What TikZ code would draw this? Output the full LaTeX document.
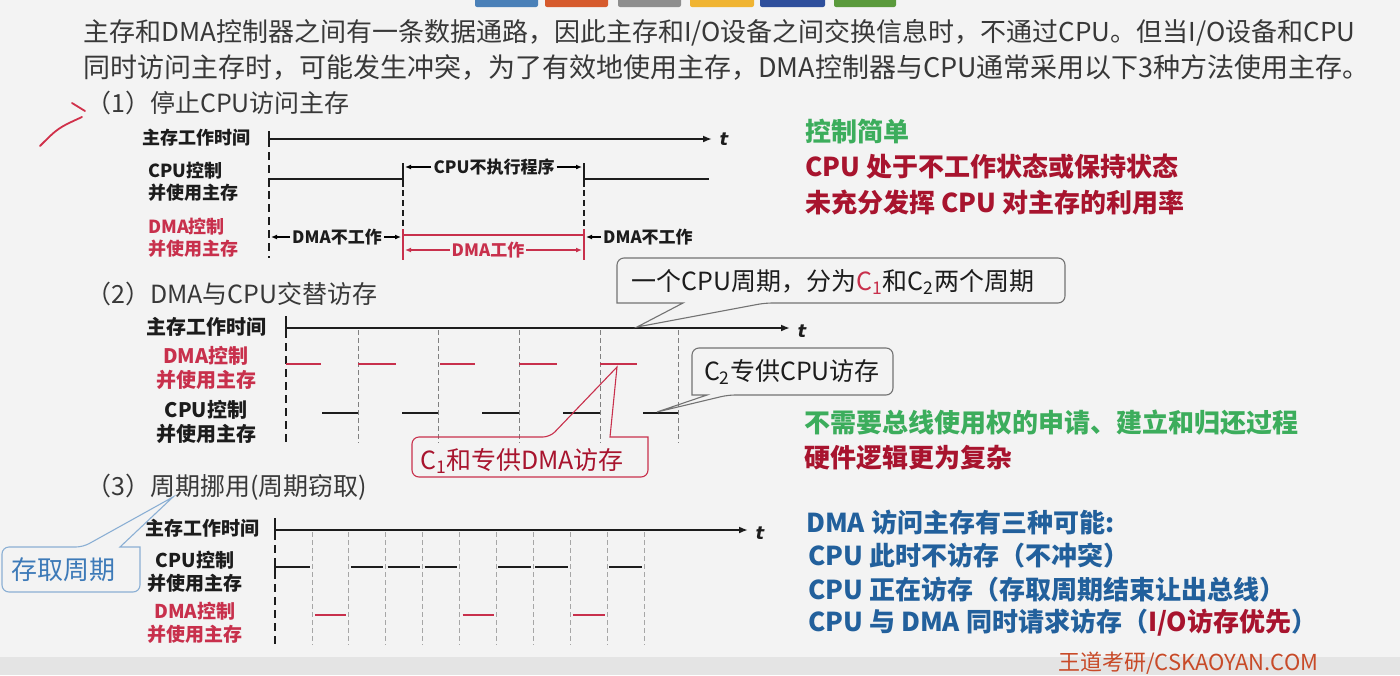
\documentclass[tikz,border=0pt]{standalone}
\usepackage{fontspec}
\setmainfont{Noto Sans CJK SC}
\newfontfamily\tfont{DejaVu Sans}
\usetikzlibrary{arrows.meta}
\definecolor{slidebg}{HTML}{F3F3F3}
\definecolor{slideband}{HTML}{E4E4E4}
\definecolor{ink}{HTML}{1C1C1C}
\definecolor{txtgray}{HTML}{383838}
\definecolor{dmared}{HTML}{C8304C}
\definecolor{darkred}{HTML}{A8142E}
\definecolor{notegreen}{HTML}{3CAD5C}
\definecolor{noteblue}{HTML}{22609C}
\definecolor{boxblue}{HTML}{3D7AB8}
\definecolor{handred}{HTML}{D0304A}
\definecolor{brand}{HTML}{C84A28}
\definecolor{barA}{HTML}{4A80B8}
\definecolor{barB}{HTML}{D65A2C}
\definecolor{barC}{HTML}{8E8E8E}
\definecolor{barD}{HTML}{F0B432}
\definecolor{barE}{HTML}{2E4F9C}
\definecolor{barF}{HTML}{5A9A3C}
\tikzstyle{toptxt}=[anchor=west, inner sep=0pt, text=txtgray, font=\fontsize{27}{30}\selectfont]
\tikzstyle{head}=[anchor=west, inner sep=0pt, text=txtgray, font=\fontsize{25}{28}\selectfont]
\tikzstyle{note}=[anchor=west, inner sep=0pt, font=\bfseries\fontsize{26}{30}\selectfont]
\tikzstyle{lblA}=[inner sep=0pt, align=left, text=ink, font=\bfseries\fontsize{18}{22}\selectfont]
\tikzstyle{lblB}=[inner sep=0pt, align=center, text=ink, font=\bfseries\fontsize{20}{24}\selectfont]
\tikzstyle{lblC}=[inner sep=0pt, align=center, text=ink, font=\bfseries\fontsize{19}{23}\selectfont]
\tikzstyle{dimtxt}=[inner sep=2pt, text=ink, font=\bfseries\fontsize{17}{20}\selectfont]
\tikzstyle{tlbl}=[inner sep=0pt, text=ink, font=\tfont\bfseries\itshape\fontsize{18}{20}\selectfont]
\tikzstyle{bubtxt}=[inner sep=0pt, text=ink, font=\fontsize{25}{28}\selectfont]
\tikzstyle{taxis}=[line width=2.2pt, ink, -{Latex[length=9pt,width=7pt]}]
\tikzstyle{startln}=[line width=2.2pt, ink, dash pattern=on 8pt off 5pt]
\tikzstyle{vdash}=[line width=1.4pt, ink, dash pattern=on 6pt off 4pt]
\tikzstyle{gridln}=[line width=0.8pt, gray, dash pattern=on 5pt off 3pt]
\tikzstyle{cpuline}=[line width=2.2pt, ink]
\tikzstyle{dmaline}=[line width=2.6pt, dmared]
\tikzstyle{dimarr}=[line width=1.3pt, -{Latex[length=6pt,width=5pt]}]
\tikzstyle{bubble}=[line width=1.1pt, draw=gray!90!black, rounded corners=7pt]

\begin{document}
\begin{tikzpicture}[x=1pt,y=-1pt]
\useasboundingbox (0,0) rectangle (1400,675);
\fill[slidebg] (0,0) rectangle (1400,675);
\fill[slideband] (0,657) rectangle (1400,675);
\foreach \a/\b/\c in {475/538/barA,545/608/barB,618/681/barC,690/754/barD,760/825/barE,834/896/barF}
  \fill[\c, rounded corners=2pt] (\a,-4) rectangle (\b,7);

% intro
\node[toptxt, font=\fontsize{26}{30}\selectfont] (intro1) at (83,33) {主存和DMA控制器之间有一条数据通路，因此主存和I/O设备之间交换信息时，不通过CPU。但当I/O设备和CPU};
\node[toptxt] (intro2) at (83,68) {同时访问主存时，可能发生冲突，为了有效地使用主存，DMA控制器与CPU通常采用以下3种方法使用主存。};

% (1) stop the CPU
\node[head] (h1) at (86,103) {（1）停止CPU访问主存};
\draw[handred, line width=1.8pt, line cap=round] (40,146) .. controls (58,128) .. (82,117);
\draw[handred, line width=1.8pt, line cap=round] (72,103) -- (85,111);
\node[lblA, anchor=west] (mem1) at (142,138) {主存工作时间};
\node[lblA, anchor=west] (cpu1) at (148,182) {CPU控制\\并使用主存};
\node[lblA, anchor=west, text=dmared] (dma1) at (148,238) {DMA控制\\并使用主存};
\draw[taxis] (269,139) -- (712,139);
\node[tlbl] (t1) at (724,139) {t};
\draw[cpuline] (269,131) -- (269,139);
\draw[startln] (269,139) -- (269,258);
\draw[cpuline] (269,187) |- (403,179);
\draw[cpuline] (403,163) -- (403,187);
\draw[cpuline] (584,163) -- (584,187);
\draw[cpuline] (584,187) |- (709,179);
\draw[vdash] (403,190) -- (403,258);
\draw[vdash] (584,190) -- (584,258);
\node[dimtxt] (stop1) at (494,167) {CPU不执行程序};
\draw[dimarr] (stop1.west) -- (405,167);
\draw[dimarr] (stop1.east) -- (582,167);
\node[dimtxt] (off1) at (337,237) {DMA不工作};
\draw[dimarr] (off1.west) -- (271,237);
\draw[dimarr] (off1.east) -- (401,237);
\draw[dmaline] (403,235) -- (584,235);
\draw[dmared, line width=1.6pt] (403,229) -- (403,260);
\draw[dmared, line width=1.6pt] (584,229) -- (584,260);
\node[dimtxt, text=dmared] (on1) at (488,250) {DMA工作};
\draw[dimarr, dmared] (on1.west) -- (405,250);
\draw[dimarr, dmared] (on1.east) -- (582,250);
\node[dimtxt, anchor=west] (off2) at (601,237) {DMA不工作};
\draw[dimarr] (off2.west) -- (586,237);
\node[note, text=notegreen] (pro1) at (805,132) {控制简单};
\node[note, text=darkred] (con1) at (805,167) {CPU 处于不工作状态或保持状态};
\node[note, text=darkred] (con2) at (805,203) {未充分发挥 CPU 对主存的利用率};

% (2) alternate access
\node[head] (h2) at (86,294) {（2）DMA与CPU交替访存};
\node[lblB] (mem2) at (206,327) {主存工作时间};
\node[lblB, text=dmared] (dma2) at (206,368) {DMA控制\\并使用主存};
\node[lblB] (cpu2) at (206,422) {CPU控制\\并使用主存};
\draw[taxis] (286,328) -- (790,328);
\node[tlbl] (t2) at (802,331) {t};
\draw[cpuline] (286,316) -- (286,330);
\draw[startln] (286,330) -- (286,443);
\foreach \x in {358,438,519,600,678}
  \draw[gridln] (\x,330) -- (\x,443);
\foreach \a/\b in {286/321,358/396,440/475,519/557,600/637}
  \draw[dmaline] (\a,364) -- (\b,364);
\foreach \a/\b in {322/358,402/438,482/519,563/600,643/678}
  \draw[cpuline] (\a,413) -- (\b,413);
\node[note, text=notegreen] (pro2) at (804,423) {不需要总线使用权的申请、建立和归还过程};
\node[note, text=darkred] (con3) at (804,458) {硬件逻辑更为复杂};

% callouts of (2)
\draw[bubble] (617,258) -- (1065,258) -- (1065,303) -- (765,303) [sharp corners]-- (637,327) -- (683,303) -- (617,303) [rounded corners=7pt]-- cycle;
\node[bubtxt] (cyc) at (833,282) {一个CPU周期，分为{\color{dmared}C\textsubscript{1}}和C\textsubscript{2}两个周期};
\draw[bubble] (692,348) -- (893,348) -- (893,395) -- (728,395) [sharp corners]-- (657,412) -- (707,395) -- (692,395) [rounded corners=7pt]-- cycle;
\node[bubtxt] (ctwo) at (792,372) {C\textsubscript{2}专供CPU访存};
\draw[bubble, draw=dmared] (412,477) -- (412,437) -- (550,437) [sharp corners]-- (617,367) -- (610,437) -- (648,437) [rounded corners=7pt]-- (648,477) -- cycle;
\node[bubtxt, text=darkred] (cone) at (522,461) {C\textsubscript{1}和专供DMA访存};

% (3) cycle stealing
\node[head] (h3) at (86,487) {（3）周期挪用(周期窃取)};
\node[lblC] (mem3) at (202,528) {主存工作时间};
\node[lblC] (cpu3) at (195,572) {CPU控制\\并使用主存};
\node[lblC, text=dmared] (dma3) at (195,623) {DMA控制\\并使用主存};
\draw[taxis] (275,530) -- (748,530);
\node[tlbl] (t3) at (760,533) {t};
\draw[cpuline] (275,518) -- (275,532);
\draw[startln] (275,532) -- (275,645);
\foreach \k in {1,...,10}
  \draw[gridln, gray!70] ({275+36.9*\k},532) -- ({275+36.9*\k},645);
\draw[cpuline] (275,576) |- (310,567);
\foreach \j in {2,3,4,6,7,9}
  \draw[cpuline] ({275+36.9*\j+2},567) -- ({275+36.9*(\j+1)-2.5},567);
\foreach \j in {1,5,8}
  \draw[dmaline] ({275+36.9*\j+3},615) -- ({275+36.9*(\j+1)-2.5},615);
\draw[bubble, draw=boxblue!60] (2,592) -- (2,547) -- (83,547) [sharp corners]-- (173,497) -- (120,547) -- (140,547) [rounded corners=7pt]-- (140,592) -- cycle;
\node[bubtxt, text=boxblue, font=\fontsize{26}{28}\selectfont] (acc) at (64,570) {存取周期};
\node[note, text=noteblue] (may0) at (806,523) {DMA 访问主存有三种可能:};
\node[note, text=noteblue] (may1) at (808,556) {CPU 此时不访存（不冲突）};
\node[note, text=noteblue] (may2) at (808,590) {CPU 正在访存（存取周期结束让出总线）};
\node[note, text=noteblue] (may3) at (808,623) {CPU 与 DMA 同时请求访存（{\color{darkred}I/O访存优先}）};
\node[anchor=west, inner sep=0pt, text=brand, font=\fontsize{22}{24}\selectfont] (brand) at (1058,663) {王道考研/CSKAOYAN.COM};
\end{tikzpicture}
\end{document}
